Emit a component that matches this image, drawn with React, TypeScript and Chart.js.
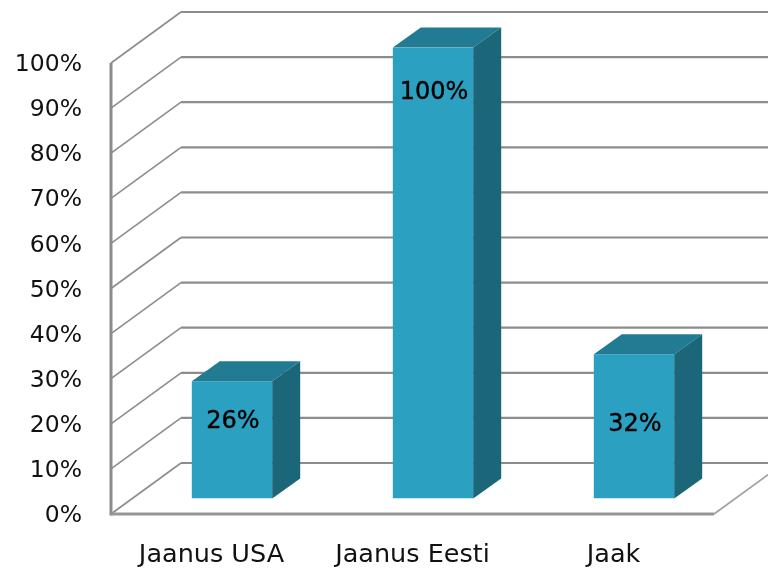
import React, { useEffect, useRef } from "react";
import { Chart, registerables } from "chart.js";

Chart.register(...registerables);

const categories = ["Jaanus USA", "Jaanus Eesti", "Jaak"];
const shares = [26, 100, 32];
const valueTicks = [0, 10, 20, 30, 40, 50, 60, 70, 80, 90, 100];
// How far each value label sits below the top edge of its column.
const labelDrops = [40.5, 45.5, 71];

const FONT = "'DejaVu Sans', sans-serif";
const GRID = "#8c8c8c";
const FRONT = "#2ca0c0";
const TOP = "#217b93";
const SIDE = "#1c667a";

// Depth of the box the columns stand in, and where the columns sit inside it.
const WALL_DX = 70;
const WALL_DY = -51;
const BAR_SHIFT_X = 20.5;
const BAR_SHIFT_Y = -15.5;
const BAR_DX = 28;
const BAR_DY = -20;

const stroke = (ctx: CanvasRenderingContext2D, pts: number[][], width: number, color = GRID) => {
  ctx.beginPath();
  pts.forEach(([x, y], i) => (i ? ctx.lineTo(x, y) : ctx.moveTo(x, y)));
  ctx.lineWidth = width;
  ctx.strokeStyle = color;
  ctx.stroke();
};

const fill = (ctx: CanvasRenderingContext2D, pts: number[][], color: string) => {
  ctx.beginPath();
  pts.forEach(([x, y], i) => (i ? ctx.lineTo(x, y) : ctx.moveTo(x, y)));
  ctx.closePath();
  ctx.fillStyle = color;
  ctx.fill();
};

const box3d = {
  id: "box3d",
  beforeDatasetsDraw(chart: any) {
    const { ctx, chartArea, scales, width } = chart;
    const { left, right } = chartArea;
    const y = scales.y;
    ctx.save();
    valueTicks.forEach((v) => {
      const py = y.getPixelForValue(v);
      stroke(ctx, [[left, py], [left + WALL_DX, py + WALL_DY]], 1.6);
      stroke(ctx, [[left + WALL_DX, py + WALL_DY], [width, py + WALL_DY]], 2.2);
    });
    const floor = y.getPixelForValue(0);
    stroke(ctx, [[right, floor], [right + WALL_DX, floor + WALL_DY]], 1.6, "#a0a0a0");
    stroke(ctx, [[left, y.getPixelForValue(100)], [left, floor + 1.5]], 3);
    stroke(ctx, [[left, floor], [right, floor]], 3, "#969696");
    ctx.restore();

    // Columns stand partway into the box, so they are drawn in shifted coordinates.
    ctx.save();
    ctx.translate(BAR_SHIFT_X, BAR_SHIFT_Y);
  },
  afterDatasetsDraw(chart: any) {
    const { ctx, scales } = chart;
    const meta = chart.getDatasetMeta(0);
    meta.data.forEach((bar: any) => {
      const half = bar.width / 2;
      const l = bar.x - half;
      const r = bar.x + half;
      const t = bar.y;
      const b = scales.y.getPixelForValue(0);
      fill(ctx, [[l, t], [l + BAR_DX, t + BAR_DY], [r + BAR_DX, t + BAR_DY], [r, t]], TOP);
      fill(ctx, [[r, t], [r + BAR_DX, t + BAR_DY], [r + BAR_DX, b + BAR_DY], [r, b]], SIDE);
    });
    ctx.fillStyle = "#000";
    ctx.strokeStyle = "#000";
    ctx.lineWidth = 0.4;
    ctx.font = `24px ${FONT}`;
    ctx.textAlign = "center";
    ctx.textBaseline = "middle";
    meta.data.forEach((bar: any, i: number) => {
      const text = `${shares[i]}%`;
      ctx.fillText(text, bar.x + 1, bar.y + labelDrops[i]);
      ctx.strokeText(text, bar.x + 1, bar.y + labelDrops[i]);
    });
    ctx.restore();
  },
};

export default function App() {
  const ref = useRef<HTMLCanvasElement>(null);

  useEffect(() => {
    const chart = new Chart(ref.current!, {
      type: "bar",
      data: {
        labels: categories,
        datasets: [
          {
            data: shares,
            backgroundColor: FRONT,
            categoryPercentage: 1,
            barPercentage: 0.4,
          },
        ],
      },
      options: {
        responsive: false,
        animation: false,
        layout: { padding: { top: 63, right: 54, left: 0, bottom: 0 } },
        plugins: { legend: { display: false }, tooltip: { enabled: false } },
        scales: {
          x: {
            grid: { display: false, drawTicks: false },
            border: { display: false },
            ticks: { color: "#111", padding: 26, maxRotation: 0, font: { family: FONT, size: 25.5 } },
            afterFit(scale: any) {
              scale.height = 54;
            },
          },
          y: {
            min: 0,
            max: 100,
            grid: { display: false, drawTicks: false },
            border: { display: false },
            ticks: {
              stepSize: 10,
              color: "#111",
              padding: 29,
              labelOffset: 2,
              font: { family: FONT, size: 23.5 },
              callback: (v: any) => `${v}%`,
            },
            afterFit(scale: any) {
              scale.width = 111;
            },
          },
        },
      },
      plugins: [box3d],
    } as any);
    return () => chart.destroy();
  }, []);

  return (
    <div style={{ position: "fixed", left: 0, top: 0, background: "#fff" }}>
      <canvas ref={ref} width={768} height={568} style={{ display: "block" }} />
    </div>
  );
}
